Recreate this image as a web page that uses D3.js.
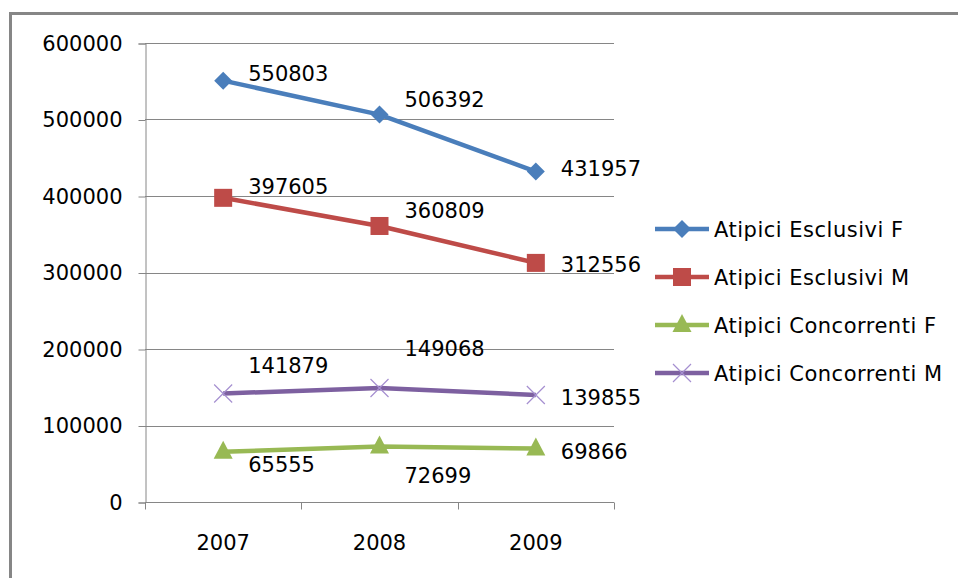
<!DOCTYPE html>
<html>
<head>
<meta charset="utf-8">
<title>Atipici 2007-2009</title>
<script src="https://d3js.org/d3.v7.min.js"></script>
<style>
  body { margin: 0; background: #fff; }
  text { font-family: "DejaVu Sans", sans-serif; fill: #000; }
</style>
</head>
<body>
<svg id="chart" width="958" height="578"></svg>
<script>
// data
var years = ["2007", "2008", "2009"];
var seriesNames = ["Atipici Esclusivi F", "Atipici Esclusivi M", "Atipici Concorrenti F", "Atipici Concorrenti M"];
var esclusiviF = [550803, 506392, 431957];
var esclusiviM = [397605, 360809, 312556];
var concorrentiF = [65555, 72699, 69866];
var concorrentiM = [141879, 149068, 139855];
var yTicks = [0, 100000, 200000, 300000, 400000, 500000, 600000];

var seriesValues = [esclusiviF, esclusiviM, concorrentiF, concorrentiM];
var colors = ["#4a7ebb", "#be4b48", "#98b954", "#7d60a0"];
var markers = ["diamond", "square", "triangle", "cross"];
// vertical nudge of each data label (px), like Excel's placement
var labelDy = [[-7, -15, -3], [-11, -16, 2], [13, 29, 3], [-28, -40, 2]];

var svg = d3.select("#chart");

// outer chart border (right / bottom are cropped in the picture)
svg.append("rect")
  .attr("x", 10.5).attr("y", 13.5)
  .attr("width", 980).attr("height", 620)
  .attr("fill", "none").attr("stroke", "#868686").attr("stroke-width", 3);

var plotLeft = 145, plotRight = 614, plotTop = 43, plotBottom = 502;

var x = d3.scaleBand().domain(years).range([plotLeft, plotRight]);
var y = d3.scaleLinear().domain([0, 600000]).range([plotBottom, plotTop]);

// gridlines
svg.append("g").selectAll("line").data(yTicks.filter(function(d) { return d > 0; }))
  .enter().append("line")
  .attr("x1", plotLeft).attr("x2", plotRight)
  .attr("y1", function(d) { return Math.round(y(d)) + 0.5; })
  .attr("y2", function(d) { return Math.round(y(d)) + 0.5; })
  .attr("stroke", "#868686").attr("stroke-width", 1);

// y axis
var yAxis = svg.append("g")
  .attr("transform", "translate(" + (plotLeft + 0.5) + ",0.5)")
  .call(d3.axisLeft(y).tickValues(yTicks).tickSize(7).tickPadding(16).tickFormat(d3.format("d")));
yAxis.select(".domain").attr("stroke", "#868686");
yAxis.selectAll(".tick line").attr("stroke", "#868686");
yAxis.selectAll("text").style("font-size", "21px").attr("fill", "#000");

// x axis
var xAxis = svg.append("g")
  .attr("transform", "translate(0," + (plotBottom + 0.5) + ")")
  .call(d3.axisBottom(x).tickSize(0).tickPadding(33));
xAxis.select(".domain").attr("stroke", "#868686").attr("d", "M" + plotLeft + ",0H" + plotRight);
xAxis.selectAll("text").style("font-size", "21px").attr("fill", "#000");
xAxis.append("g").selectAll("line")
  .data(years.map(function(d) { return x(d); }).concat([plotRight]))
  .enter().append("line")
  .attr("x1", function(d) { return Math.round(d) + 0.5; })
  .attr("x2", function(d) { return Math.round(d) + 0.5; })
  .attr("y1", 0).attr("y2", 7)
  .attr("stroke", "#868686");

function drawMarker(g, type, color, cx, cy) {
  if (type === "diamond") {
    g.append("path").attr("d", "M" + cx + "," + (cy - 9) + "L" + (cx + 9) + "," + cy + "L" + cx + "," + (cy + 9) + "L" + (cx - 9) + "," + cy + "Z")
      .attr("fill", color);
  } else if (type === "square") {
    g.append("rect").attr("x", cx - 9).attr("y", cy - 9).attr("width", 18).attr("height", 18).attr("fill", color);
  } else if (type === "triangle") {
    g.append("path").attr("d", "M" + cx + "," + (cy - 11) + "L" + (cx + 9.5) + "," + (cy + 7) + "L" + (cx - 9.5) + "," + (cy + 7) + "Z")
      .attr("fill", color);
  } else {
    g.append("path").attr("d", "M" + (cx - 9) + "," + (cy - 9) + "L" + (cx + 9) + "," + (cy + 9) + "M" + (cx - 9) + "," + (cy + 9) + "L" + (cx + 9) + "," + (cy - 9))
      .attr("stroke", "#a58fd0").attr("stroke-width", 1.2).attr("fill", "none");
  }
}

var line = d3.line()
  .x(function(d, i) { return x(years[i]) + x.bandwidth() / 2; })
  .y(function(d) { return y(d); });

seriesValues.forEach(function(vals, s) {
  var g = svg.append("g");
  g.append("path").datum(vals)
    .attr("d", line)
    .attr("fill", "none").attr("stroke", colors[s]).attr("stroke-width", 4.5)
    .attr("stroke-linejoin", "round");
  vals.forEach(function(v, i) {
    var cx = x(years[i]) + x.bandwidth() / 2, cy = y(v);
    drawMarker(g, markers[s], colors[s], cx, cy);
    g.append("text")
      .attr("x", cx + 25).attr("y", cy + labelDy[s][i])
      .attr("dy", "0.36em")
      .style("font-size", "21px")
      .text(v);
  });
});

// legend
var legend = svg.append("g");
seriesNames.forEach(function(name, s) {
  var ly = 229 + s * 48;
  legend.append("line").attr("x1", 655).attr("x2", 709).attr("y1", ly).attr("y2", ly)
    .attr("stroke", colors[s]).attr("stroke-width", 4.5);
  drawMarker(legend, markers[s], colors[s], 682, ly);
  legend.append("text").attr("x", 714).attr("y", ly).attr("dy", "0.36em")
    .style("font-size", "21px").style("letter-spacing", "0.5px").text(name);
});
</script>
</body>
</html>
